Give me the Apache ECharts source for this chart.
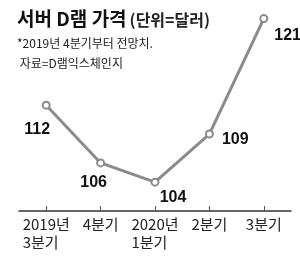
<!DOCTYPE html>
<html>
<head>
<meta charset="utf-8">
<script src="https://cdn.jsdelivr.net/npm/echarts@6/dist/echarts.min.js"></script>
<style>
  html, body { margin: 0; padding: 0; background: #fff; }
  #chart { width: 300px; height: 261px; }
</style>
</head>
<body>
<div id="chart"></div>
<script>
(function(){
    let categories = ['2019년\n3분기', '4분기', '2020년\n1분기', '2분기', '3분기'];
    let prices = [112, 106, 104, 109, 121];
    // label placement per point: [position, distance, offsetX, offsetY]
    let labelPlaces = [
        ['bottom', 12, -9, 0],
        ['bottom', 7, -7, 0],
        ['bottom', 3, 18, 0],
        ['right', 8, 0, 6],
        ['right', 6, 0, 17]
    ];

    let lineColor = '#8b8b8b';
    let numFont = '"Liberation Sans Narrow", "Liberation Sans", Arial, sans-serif';
    let krFont = '"Noto Sans CJK KR", "Noto Sans", sans-serif';

    let chart = echarts.init(document.getElementById('chart'));

    let opts = {
        animation: false,
        title: {
            left: 12,
            top: 4,
            text: '{a|서버 D램 가격}{b|(단위=달러)}',
            textStyle: {
                rich: {
                    a: { fontFamily: krFont, fontSize: 19, fontWeight: 'bold', color: '#111' },
                    b: { fontFamily: krFont, fontSize: 16, color: '#222', padding: [2, 0, 0, 3] }
                }
            },
            subtext: '*2019년 4분기부터 전망치.\n 자료=D램익스체인지',
            itemGap: 5,
            subtextStyle: {
                fontFamily: krFont,
                fontSize: 12,
                color: '#222',
                lineHeight: 20
            }
        },
        grid: {
            left: 19,
            right: 9,
            top: 9,
            bottom: 50
        },
        xAxis: {
            type: 'category',
            data: categories,
            boundaryGap: true,
            axisLine: { lineStyle: { color: '#333', width: 1.5 } },
            axisTick: { show: true, inside: true, length: 5, alignWithLabel: true, lineStyle: { color: '#555' } },
            axisLabel: {
                interval: 0,
                margin: 4,
                formatter: function(v){
                    return v.split('\n').map(s => '{l|' + s + '}').join('\n');
                },
                rich: {
                    l: {
                        fontFamily: krFont,
                        fontSize: 15,
                        color: '#222',
                        lineHeight: 18,
                        align: 'left'
                    }
                }
            }
        },
        yAxis: {
            type: 'value',
            min: 101,
            max: 122,
            show: false,
            splitLine: { show: false }
        },
        series: [
            {
                type: 'line',
                data: prices.map((v, i) => {
                    let p = labelPlaces[i];
                    return {
                        value: v,
                        label: { position: p[0], distance: p[1], offset: [p[2], p[3]] }
                    };
                }),
                symbol: 'circle',
                symbolSize: 7,
                lineStyle: { color: lineColor, width: 3 },
                itemStyle: { color: '#fff', borderColor: lineColor, borderWidth: 2 },
                label: {
                    show: true,
                    fontFamily: numFont,
                    fontSize: 16,
                    fontWeight: 'bold',
                    color: '#111'
                }
            }
        ]
    };

    chart.setOption(opts);
})();
</script>
</body>
</html>
